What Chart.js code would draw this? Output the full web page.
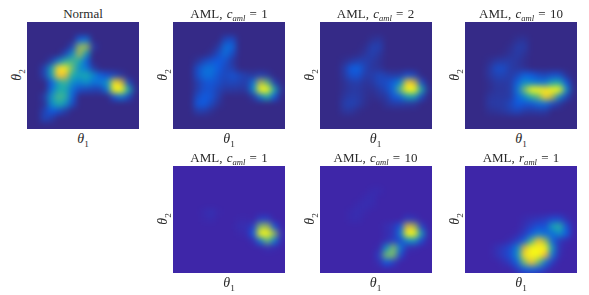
<!DOCTYPE html>
<html>
<head>
<meta charset="utf-8">
<title>AML posterior densities</title>
<script src="https://cdn.jsdelivr.net/npm/chart.js@4"></script>
<style>
html, body { margin: 0; padding: 0; background: #fff; }
#page { position: relative; width: 589px; height: 295px; overflow: hidden; font-family: "Liberation Serif", serif; color: #2a2a2a; }
.panel { position: absolute; overflow: hidden; }
.panel canvas { position: absolute; left: -10px; top: -10px; filter: blur(3.2px); }
.lbl { position: absolute; white-space: nowrap; line-height: 1; transform: translate(-50%, -50%); }
.title { font-size: 13px; word-spacing: 1px; }
.axis { font-size: 14px; }
.rot { transform: translate(-50%, -50%) rotate(-90deg); }
sub { font-size: 0.66em; line-height: 0; }
</style>
</head>
<body>
<div id="page"></div>
<script>
// Density grids, 16 columns by 15 rows, scale 0-100
const normal = [
  [0,0,0,0,0,0,0,0,0,0,0,0,0,0,0,0],
  [0,0,0,0,0,0,0,0,0,0,0,0,0,0,0,0],
  [0,0,0,0,0,0,0,22,28,0,0,0,0,0,0,0],
  [0,0,0,0,0,0,12,66,68,8,0,0,0,0,0,0],
  [0,0,0,0,0,12,38,70,42,0,0,0,0,0,0,0],
  [0,0,0,8,32,52,56,48,22,0,0,0,0,0,0,0],
  [0,0,10,44,92,96,60,38,30,8,0,0,0,0,0,0],
  [0,0,10,44,86,78,50,44,48,36,22,16,12,6,0,0],
  [0,0,0,20,46,54,38,32,38,28,30,40,92,76,14,0],
  [0,0,0,26,48,48,27,14,12,10,10,30,100,100,50,4],
  [0,0,8,40,56,52,22,0,0,0,0,0,18,32,14,0],
  [0,0,4,36,50,40,14,0,0,0,0,0,0,0,0,0],
  [0,0,10,20,16,8,0,0,0,0,0,0,0,0,0,0],
  [0,0,12,8,0,0,0,0,0,0,0,0,0,0,0,0],
  [0,0,0,0,0,0,0,0,0,0,0,0,0,0,0,0]
];
const amlC1 = [
  [0,0,0,0,0,0,0,0,0,0,0,0,0,0,0,0],
  [0,0,0,0,0,0,0,0,0,0,0,0,0,0,0,0],
  [0,0,0,0,0,0,0,12,14,0,0,0,0,0,0,0],
  [0,0,0,0,0,0,6,26,24,0,0,0,0,0,0,0],
  [0,0,0,0,0,4,14,26,14,0,0,0,0,0,0,0],
  [0,0,0,4,12,17,20,16,6,0,0,0,0,0,0,0],
  [0,0,0,14,26,28,20,12,9,0,0,0,0,0,0,0],
  [0,0,0,14,26,26,16,12,16,12,8,6,10,6,0,0],
  [0,0,0,8,16,18,14,10,12,10,8,28,72,58,10,0],
  [0,0,0,8,16,16,10,6,6,5,6,36,100,100,48,4],
  [0,0,0,14,20,17,8,0,0,0,0,6,30,50,20,0],
  [0,0,0,18,20,12,4,0,0,0,0,0,0,0,0,0],
  [0,0,0,8,8,3,0,0,0,0,0,0,0,0,0,0],
  [0,0,0,0,0,0,0,0,0,0,0,0,0,0,0,0],
  [0,0,0,0,0,0,0,0,0,0,0,0,0,0,0,0]
];
const amlC2 = [
  [0,0,0,0,0,0,0,0,0,0,0,0,0,0,0,0],
  [0,0,0,0,0,0,0,0,0,0,0,0,0,0,0,0],
  [0,0,0,0,0,0,0,3,5,0,0,0,0,0,0,0],
  [0,0,0,0,0,0,2,9,9,0,0,0,0,0,0,0],
  [0,0,0,0,0,1,5,9,5,0,0,0,0,0,0,0],
  [0,0,0,2,6,9,9,6,3,0,0,0,0,0,0,0],
  [0,0,0,7,20,22,10,5,4,0,0,0,0,0,0,0],
  [0,0,0,6,16,16,7,8,12,9,7,8,16,12,0,0],
  [0,0,0,3,7,8,4,6,12,14,22,36,88,76,16,0],
  [0,0,0,3,6,6,3,3,7,12,26,60,100,100,48,4],
  [0,0,0,5,8,7,3,1,4,6,18,24,44,44,14,0],
  [0,0,0,8,10,7,2,0,0,4,7,7,6,5,0,0],
  [0,0,0,5,5,1,0,0,0,0,0,0,0,0,0,0],
  [0,0,0,0,0,0,0,0,0,0,0,0,0,0,0,0],
  [0,0,0,0,0,0,0,0,0,0,0,0,0,0,0,0]
];
const amlC10 = [
  [0,0,0,0,0,0,0,0,0,0,0,0,0,0,0,0],
  [0,0,0,0,0,0,0,0,0,0,0,0,0,0,0,0],
  [0,0,0,0,0,0,0,3,4,0,0,0,0,0,0,0],
  [0,0,0,0,0,0,2,7,7,0,0,0,0,0,0,0],
  [0,0,0,0,0,1,4,7,4,0,0,0,0,0,0,0],
  [0,0,0,2,6,7,7,5,2,0,0,0,0,0,0,0],
  [0,0,0,5,14,14,7,5,3,0,0,0,0,0,0,0],
  [0,0,0,5,10,10,7,12,22,20,14,12,16,16,4,0],
  [0,0,0,2,6,6,7,22,38,34,30,30,46,48,20,0],
  [0,0,0,2,5,5,7,28,62,100,100,94,100,100,38,2],
  [0,0,0,5,6,6,7,22,36,52,60,90,70,36,12,0],
  [0,0,0,6,7,7,12,20,18,18,26,26,14,6,0,0],
  [0,0,0,3,4,6,9,12,7,6,7,7,0,0,0,0],
  [0,0,0,0,0,0,0,0,0,0,0,0,0,0,0,0],
  [0,0,0,0,0,0,0,0,0,0,0,0,0,0,0,0]
];
const lowC1 = [
  [0,0,0,0,0,0,0,0,0,0,0,0,0,0,0,0],
  [0,0,0,0,0,0,0,0,0,0,0,0,0,0,0,0],
  [0,0,0,0,0,0,0,0,0,0,0,0,0,0,0,0],
  [0,0,0,0,0,0,0,0,0,0,0,0,0,0,0,0],
  [0,0,0,0,0,0,0,0,0,0,0,0,0,0,0,0],
  [0,0,0,0,0,0,0,0,0,0,0,0,0,0,0,0],
  [0,0,0,0,2,4,1,0,0,0,0,0,0,0,0,0],
  [0,0,0,0,1,2,0,0,0,1,1,0,10,10,0,0],
  [0,0,0,0,0,0,0,0,0,3,3,10,64,68,18,0],
  [0,0,0,0,0,0,0,0,0,1,2,20,100,100,66,4],
  [0,0,0,0,0,0,0,0,0,0,0,3,30,60,32,2],
  [0,0,0,0,0,0,0,0,0,0,0,0,0,4,2,0],
  [0,0,0,0,0,0,0,0,0,0,0,0,0,0,0,0],
  [0,0,0,0,0,0,0,0,0,0,0,0,0,0,0,0],
  [0,0,0,0,0,0,0,0,0,0,0,0,0,0,0,0]
];
const lowC10 = [
  [0,0,0,0,0,0,0,0,0,0,0,0,0,0,0,0],
  [0,0,0,0,0,0,0,0,0,0,0,0,0,0,0,0],
  [0,0,0,0,0,0,0,0,0,0,0,0,0,0,0,0],
  [0,0,0,0,0,0,0,2,2,0,0,0,0,0,0,0],
  [0,0,0,0,0,0,2,3,0,0,0,0,0,0,0,0],
  [0,0,0,0,0,2,3,2,0,0,0,0,0,0,0,0],
  [0,0,0,0,2,3,1,0,0,0,0,0,0,0,0,0],
  [0,0,0,0,2,2,0,0,0,0,0,0,8,5,0,0],
  [0,0,0,0,0,0,0,0,0,3,6,18,78,70,12,0],
  [0,0,0,0,0,0,0,0,0,2,6,30,100,100,42,2],
  [0,0,0,0,0,0,0,0,0,4,10,14,36,40,14,0],
  [0,0,0,0,0,0,0,0,2,38,64,30,4,2,0,0],
  [0,0,0,0,0,0,0,0,10,62,62,14,0,0,0,0],
  [0,0,0,0,0,0,0,0,4,20,10,0,0,0,0,0],
  [0,0,0,0,0,0,0,0,0,0,0,0,0,0,0,0]
];
const lowR1 = [
  [0,0,0,0,0,0,0,0,0,0,0,0,0,0,0,0],
  [0,0,0,0,0,0,0,0,0,0,0,0,0,0,0,0],
  [0,0,0,0,0,0,0,0,0,0,0,0,0,0,0,0],
  [0,0,0,0,0,0,0,0,0,0,0,0,0,0,0,0],
  [0,0,0,0,0,0,0,0,0,0,0,0,0,0,0,0],
  [0,0,0,0,0,0,0,0,0,0,0,0,0,0,0,0],
  [0,0,0,0,0,0,0,0,0,0,0,0,0,0,0,0],
  [0,0,0,0,0,0,0,0,2,4,6,8,14,14,4,0],
  [0,0,0,0,0,0,0,0,4,10,16,16,44,52,18,0],
  [0,0,0,0,0,0,0,2,8,20,32,26,26,38,22,0],
  [0,0,0,0,0,0,3,10,22,56,86,66,24,7,2,0],
  [0,0,0,0,4,8,14,34,76,100,100,100,40,5,0,0],
  [0,0,0,0,4,9,16,38,92,100,100,82,30,3,0,0],
  [0,0,0,0,0,3,9,24,62,86,62,30,8,0,0,0],
  [0,0,0,0,0,0,0,8,20,24,18,7,0,0,0,0]
];

const titleNames = ['Normal', 'AML, ', 'AML, ', 'AML, ', 'AML, ', 'AML, ', 'AML, '];
const titleParams = ['', 'c', 'c', 'c', 'c', 'c', 'r'];
const titleValues = ['', '1', '2', '10', '1', '10', '1'];
const grids = [normal, amlC1, amlC2, amlC10, lowC1, lowC10, lowR1];

const panelLeft = [27, 173, 319.5, 465, 173, 319.5, 465];
const panelTop = [22, 22, 22, 22, 166, 166, 166];
const panelW = 112, panelH = 107, pad = 10;

// Couleurs de la carte, base differente selon la rangee
const stops = [
  [20, [15, 92, 225]],
  [35, [10, 135, 210]],
  [50, [30, 175, 170]],
  [62, [120, 190, 110]],
  [72, [190, 185, 70]],
  [82, [250, 185, 55]],
  [100, [250, 250, 20]]
];
function colour(v, base) {
  let a = [0, base];
  if (v >= 100) return 'rgb(250,250,20)';
  for (const s of stops) {
    if (v <= s[0]) {
      const t = (v - a[0]) / (s[0] - a[0]);
      const c = a[1].map((n, i) => Math.round(n + (s[1][i] - n) * t));
      return 'rgb(' + c.join(',') + ')';
    }
    a = s;
  }
}

const page = document.getElementById('page');

function addLabel(html, x, y, cls) {
  const d = document.createElement('div');
  d.className = 'lbl ' + cls;
  d.style.left = x + 'px';
  d.style.top = y + 'px';
  d.innerHTML = html;
  page.appendChild(d);
}

grids.forEach(function(grid, p) {
  const base = panelTop[p] < 100 ? [53, 42, 135] : [62, 38, 168];
  const wrap = document.createElement('div');
  wrap.className = 'panel';
  wrap.style.left = panelLeft[p] + 'px';
  wrap.style.top = panelTop[p] + 'px';
  wrap.style.width = panelW + 'px';
  wrap.style.height = panelH + 'px';
  const canvas = document.createElement('canvas');
  canvas.width = panelW + 2 * pad;
  canvas.height = panelH + 2 * pad;
  canvas.style.background = 'rgb(' + base.join(',') + ')';
  wrap.appendChild(canvas);
  page.appendChild(wrap);

  const points = [];
  const colours = [];
  grid.forEach(function(row, r) {
    row.forEach(function(v, c) {
      points.push({ x: c + 0.5, y: r + 0.5 });
      colours.push(colour(v, base));
    });
  });

  new Chart(canvas.getContext('2d'), {
    type: 'scatter',
    data: {
      datasets: [{
        data: points,
        pointStyle: 'rect',
        pointRadius: 5.2,
        pointBorderWidth: 0,
        pointBackgroundColor: colours
      }]
    },
    options: {
      responsive: false,
      animation: false,
      layout: { padding: pad },
      plugins: { legend: { display: false }, tooltip: { enabled: false } },
      scales: {
        x: { type: 'linear', min: 0, max: 16, display: false },
        y: { type: 'linear', min: 0, max: 15, reverse: true, display: false }
      }
    }
  });

  const cx = panelLeft[p] + panelW / 2;
  const top = panelTop[p];
  let title = titleNames[p];
  if (titleParams[p]) {
    title += '<i>' + titleParams[p] + '<sub>aml</sub></i> = ' + titleValues[p];
  }
  addLabel(title, cx, top - 9, 'title');
  addLabel('<i>\u03b8</i><sub>1</sub>', cx, top + 117, 'axis');
  addLabel('<i>\u03b8</i><sub>2</sub>', panelLeft[p] - 10, top + 53, 'axis rot');
});
</script>
</body>
</html>
